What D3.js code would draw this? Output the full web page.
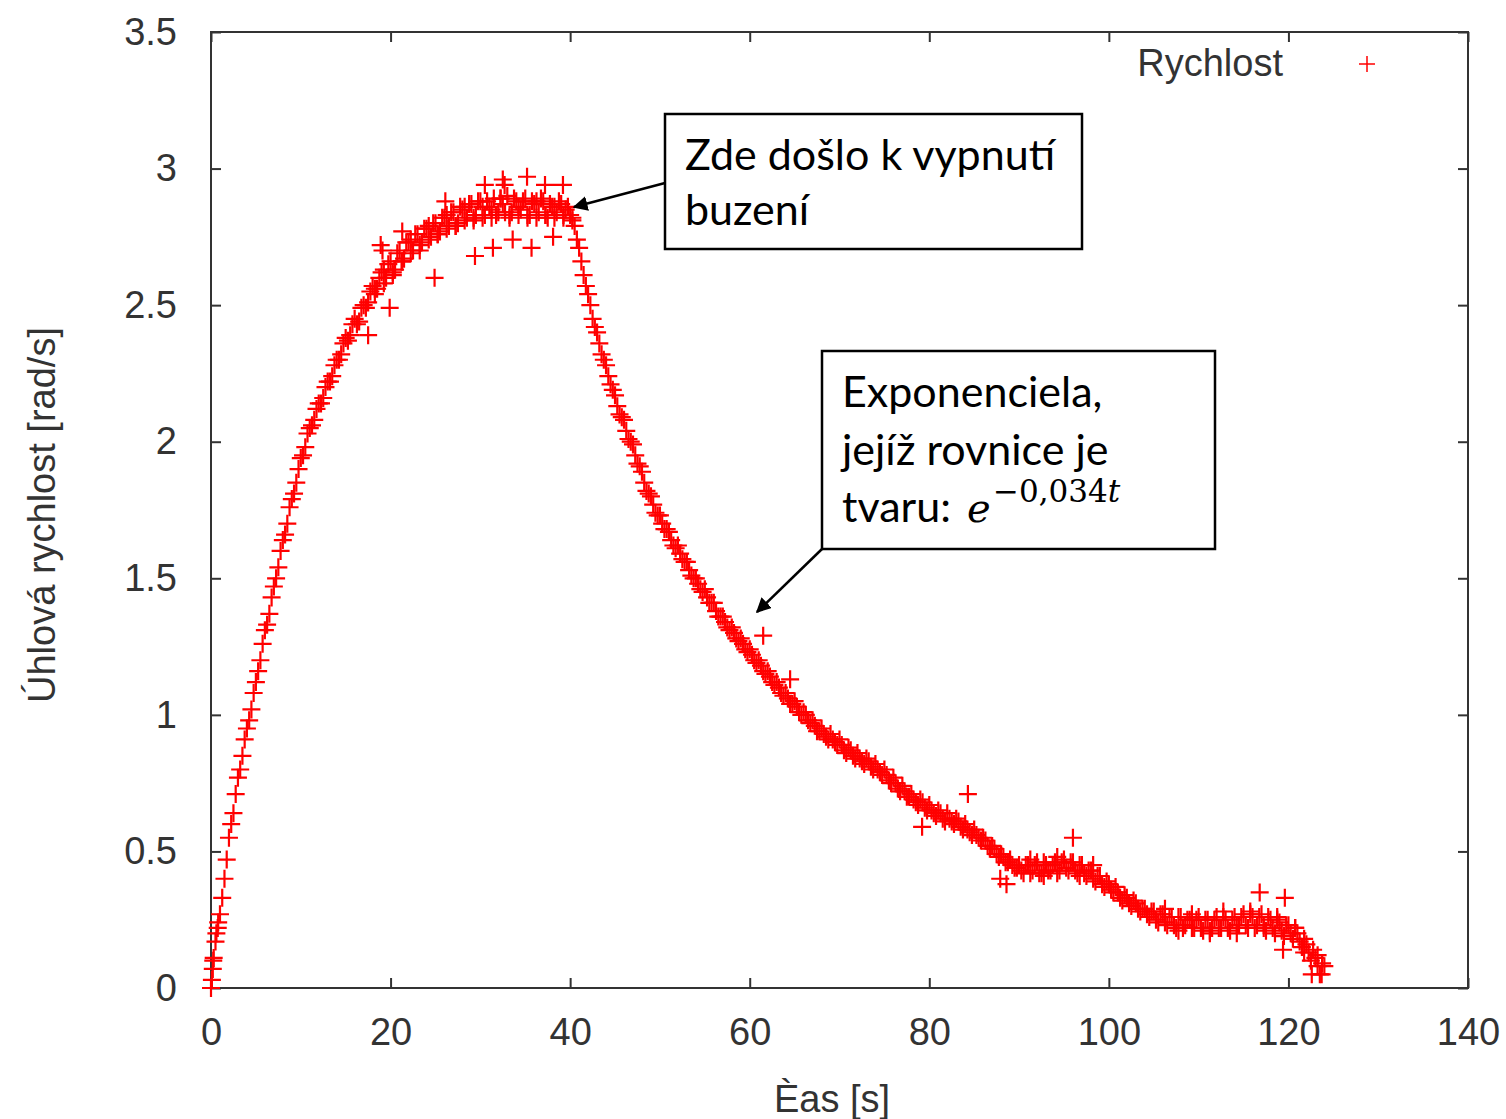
<!DOCTYPE html>
<html>
<head>
<meta charset="utf-8">
<script src="https://cdn.jsdelivr.net/npm/d3@7"></script>
<style>
  body { margin: 0; background: #fff; }
  #graf text { font-family: "Liberation Sans", Arial, sans-serif; }
</style>
</head>
<body>
<div id="graf"></div>
<script>
// Uhlova rychlost setrvacniku, vzorkovano po 0.5 s
const krok = 0.5;
const rychlost = [
  0.00, 0.17, 0.27, 0.40, 0.55, 0.64, 0.77, 0.85, 0.95, 1.02,
  1.12, 1.20, 1.31, 1.37, 1.47, 1.54, 1.64, 1.70, 1.79, 1.85,
  1.94, 1.98, 2.05, 2.08, 2.14, 2.16, 2.22, 2.24, 2.30, 2.32,
  2.38, 2.39, 2.45, 2.44, 2.50, 2.51, 2.57, 2.56, 2.62, 2.60,
  2.66, 2.63, 2.70, 2.67, 2.73, 2.70, 2.76, 2.73, 2.78, 2.75,
  2.80, 2.77, 2.82, 2.79, 2.84, 2.80, 2.85, 2.82, 2.87, 2.83,
  2.88, 2.83, 2.86, 2.89, 2.84, 2.87, 2.90, 2.84, 2.88, 2.85,
  2.89, 2.83, 2.87, 2.84, 2.88, 2.82, 2.86, 2.84, 2.87, 2.85,
  2.83, 2.79, 2.71, 2.61, 2.54, 2.45, 2.40, 2.32, 2.28, 2.21,
  2.17, 2.10, 2.08, 2.01, 1.99, 1.92, 1.89, 1.82, 1.80, 1.74,
  1.73, 1.68, 1.67, 1.62, 1.62, 1.57, 1.56, 1.51, 1.50, 1.46,
  1.46, 1.41, 1.41, 1.36, 1.36, 1.32, 1.32, 1.28, 1.28, 1.24,
  1.24, 1.20, 1.20, 1.16, 1.16, 1.12, 1.12, 1.08, 1.08, 1.04,
  1.05, 1.01, 1.01, 0.98, 0.98, 0.94, 0.95, 0.92, 0.93, 0.90,
  0.91, 0.87, 0.88, 0.85, 0.86, 0.83, 0.84, 0.81, 0.82, 0.79,
  0.80, 0.76, 0.77, 0.73, 0.74, 0.70, 0.71, 0.68, 0.69, 0.66,
  0.67, 0.64, 0.65, 0.62, 0.64, 0.61, 0.62, 0.59, 0.60, 0.57,
  0.58, 0.55, 0.55, 0.52, 0.52, 0.49, 0.49, 0.46, 0.47, 0.44,
  0.45, 0.42, 0.45, 0.43, 0.46, 0.42, 0.45, 0.43, 0.46, 0.43,
  0.47, 0.43, 0.46, 0.42, 0.45, 0.41, 0.43, 0.39, 0.41, 0.37,
  0.38, 0.35, 0.35, 0.32, 0.33, 0.30, 0.31, 0.28, 0.29, 0.26,
  0.28, 0.24, 0.27, 0.23, 0.26, 0.22, 0.26, 0.23, 0.25, 0.22,
  0.26, 0.21, 0.25, 0.22, 0.26, 0.22, 0.25, 0.21, 0.26, 0.23,
  0.27, 0.22, 0.26, 0.23, 0.27, 0.21, 0.25, 0.20, 0.24, 0.19,
  0.23, 0.18, 0.20, 0.15, 0.16, 0.10, 0.11, 0.05, 0.08
];
const cas = d3.range(rychlost.length).map(i => i * krok);

// druha sada vzorku, posunuta o 0.25 s
const rychlost2 = [
  0.10, 0.22, 0.33, 0.47, 0.60, 0.71, 0.80, 0.91, 0.98, 1.08,
  1.16, 1.26, 1.33, 1.43, 1.50, 1.60, 1.66, 1.76, 1.81, 1.90,
  1.95, 2.03, 2.06, 2.12, 2.14, 2.20, 2.22, 2.28, 2.30, 2.36,
  2.37, 2.43, 2.43, 2.49, 2.49, 2.55, 2.54, 2.60, 2.58, 2.65,
  2.62, 2.69, 2.66, 2.73, 2.69, 2.76, 2.72, 2.78, 2.74, 2.80,
  2.76, 2.82, 2.78, 2.84, 2.79, 2.86, 2.81, 2.87, 2.82, 2.88,
  2.82, 2.88, 2.85, 2.83, 2.89, 2.84, 2.82, 2.89, 2.83, 2.88,
  2.83, 2.88, 2.82, 2.89, 2.83, 2.87, 2.82, 2.88, 2.83, 2.86,
  2.82, 2.74, 2.66, 2.57, 2.50, 2.42, 2.36, 2.30, 2.24, 2.19,
  2.13, 2.09, 2.04, 2.00, 1.95, 1.91, 1.85, 1.81, 1.77, 1.73,
  1.70, 1.68, 1.64, 1.61, 1.59, 1.56, 1.53, 1.50, 1.48, 1.45,
  1.43, 1.41, 1.38, 1.36, 1.34, 1.31, 1.30, 1.27, 1.26, 1.23,
  1.22, 1.19, 1.18, 1.15, 1.14, 1.11, 1.10, 1.07, 1.06, 1.04,
  1.03, 1.00, 1.00, 0.97, 0.96, 0.94, 0.93, 0.91, 0.91, 0.89,
  0.89, 0.86, 0.87, 0.84, 0.84, 0.82, 0.83, 0.80, 0.80, 0.78,
  0.78, 0.75, 0.75, 0.72, 0.72, 0.70, 0.69, 0.67, 0.68, 0.65,
  0.65, 0.63, 0.64, 0.61, 0.62, 0.60, 0.61, 0.58, 0.58, 0.56,
  0.56, 0.54, 0.54, 0.51, 0.51, 0.48, 0.48, 0.46, 0.45, 0.44,
  0.43, 0.45, 0.42, 0.45, 0.42, 0.46, 0.43, 0.45, 0.42, 0.46,
  0.44, 0.46, 0.43, 0.45, 0.42, 0.43, 0.40, 0.41, 0.38, 0.39,
  0.36, 0.37, 0.33, 0.34, 0.31, 0.32, 0.29, 0.29, 0.27, 0.28,
  0.25, 0.27, 0.24, 0.26, 0.23, 0.26, 0.22, 0.25, 0.22, 0.25,
  0.22, 0.25, 0.21, 0.25, 0.22, 0.26, 0.22, 0.25, 0.23, 0.26,
  0.23, 0.27, 0.22, 0.26, 0.23, 0.26, 0.22, 0.25, 0.21, 0.23,
  0.20, 0.22, 0.17, 0.18, 0.13, 0.14, 0.08, 0.09
];
const cas2 = d3.range(rychlost2.length).map(i => 0.25 + i * krok);

// dalsi body mimo pravidelnou mrizku (odlehle hodnoty, zacatek mereni)
const casNavic = [0.1, 0.2, 0.3, 0.6, 0.8,
  17.5, 18.25, 18.9, 19.1, 19.25, 19.9, 20.25, 21.25, 21.3, 22.25, 23.25, 24.25, 24.9, 25.25,
  26.1, 26.25, 27.25, 28.25, 29.25, 29.4, 30.25, 30.5, 31.25, 31.4, 32.25, 32.5, 32.7, 33.25,
  33.6, 34.25, 35.2, 35.25, 35.7, 36.25, 37.2, 37.25, 38.1, 38.25, 39.2, 39.25, 40.25,
  61.5, 64.5, 79.2, 84.3, 87.9, 88.6, 91.25, 92.75, 94.25, 96.0, 96.75, 98.25,
  106.25, 107.75, 109.25, 111.25, 112.75, 114.25, 115.75, 116.8, 117.25, 118.75, 119.4, 119.6,
  120.75, 121.75, 122.6, 123.25, 123.7];
const rychlostNavic = [0.03, 0.07, 0.11, 0.20, 0.24,
  2.39, 2.56, 2.72, 2.70, 2.63, 2.49, 2.61, 2.66, 2.77, 2.74, 2.70, 2.79, 2.60, 2.76,
  2.88, 2.83, 2.79, 2.86, 2.81, 2.68, 2.86, 2.94, 2.82, 2.71, 2.89, 2.96, 2.94, 2.83,
  2.74, 2.86, 2.97, 2.82, 2.71, 2.88, 2.94, 2.83, 2.75, 2.86, 2.94, 2.82, 2.81,
  1.29, 1.13, 0.59, 0.71, 0.40, 0.38, 0.47, 0.41, 0.48, 0.55, 0.41, 0.45,
  0.29, 0.21, 0.27, 0.20, 0.28, 0.20, 0.28, 0.35, 0.22, 0.26, 0.14, 0.33,
  0.22, 0.13, 0.05, 0.12, 0.05];

const xTicks = [0, 20, 40, 60, 80, 100, 120, 140];
const yTicks = [0, 0.5, 1, 1.5, 2, 2.5, 3, 3.5];

const sirka = 1506, vyska = 1119;
const svg = d3.select("#graf").append("svg")
  .attr("width", sirka)
  .attr("height", vyska);

const x = d3.scaleLinear().domain([0, 140]).range([211, 1468]);
const y = d3.scaleLinear().domain([0, 3.5]).range([988, 32]);

const body = cas.map((t, i) => [t, rychlost[i]])
  .concat(cas2.map((t, i) => [t, rychlost2[i]]))
  .concat(casNavic.map((t, i) => [t, rychlostNavic[i]]));

// osy - carky smeruji dovnitr grafu
svg.append("g").attr("transform", "translate(0,988)")
  .call(d3.axisBottom(x).tickValues(xTicks).tickSizeInner(-10).tickSizeOuter(0).tickPadding(30));
svg.append("g").attr("transform", "translate(211,0)")
  .call(d3.axisLeft(y).tickValues(yTicks).tickFormat(d3.format("")).tickSizeInner(-10).tickSizeOuter(0).tickPadding(34));
svg.append("g").attr("transform", "translate(0,32)")
  .call(d3.axisTop(x).tickValues(xTicks).tickFormat("").tickSizeInner(-10).tickSizeOuter(0));
svg.append("g").attr("transform", "translate(1468,0)")
  .call(d3.axisRight(y).tickValues(yTicks).tickFormat("").tickSizeInner(-10).tickSizeOuter(0));

svg.selectAll(".domain").remove();
svg.selectAll(".tick line").attr("stroke", "#333").attr("stroke-width", 2);
svg.selectAll(".tick text").attr("fill", "#333").style("font-size", "38px")
  .style("font-family", "'Liberation Sans', Arial, sans-serif");

svg.append("rect")
  .attr("x", 211).attr("y", 32)
  .attr("width", 1468 - 211).attr("height", 988 - 32)
  .attr("fill", "none").attr("stroke", "#333").attr("stroke-width", 2);

// body jako krizky
const krizek = s => `M${-s},0H${s}M0,${-s}V${s}`;
svg.append("g").selectAll("path")
  .data(body)
  .enter()
  .append("path")
  .attr("transform", d => `translate(${x(d[0])},${y(d[1])})`)
  .attr("d", krizek(9))
  .attr("stroke", "#ff0000")
  .attr("stroke-width", 2.2)
  .attr("fill", "none");

// popisky os
svg.append("text")
  .attr("x", 832).attr("y", 1112)
  .attr("text-anchor", "middle")
  .attr("fill", "#333")
  .style("font-size", "38px")
  .text("Èas [s]");
svg.append("text")
  .attr("transform", "translate(55,515) rotate(-90)")
  .attr("text-anchor", "middle")
  .attr("fill", "#333")
  .style("font-size", "38px")
  .text("Úhlová rychlost [rad/s]");

// legenda
svg.append("text")
  .attr("x", 1283).attr("y", 76)
  .attr("text-anchor", "end")
  .attr("fill", "#333")
  .style("font-size", "38px")
  .text("Rychlost");
svg.append("path")
  .attr("transform", "translate(1367,64)")
  .attr("d", krizek(8))
  .attr("stroke", "#ff0000")
  .attr("stroke-width", 1.5);

// sipky a ramecky s komentari
svg.append("defs").append("marker")
  .attr("id", "hrot")
  .attr("viewBox", "0 0 10 10")
  .attr("refX", 9).attr("refY", 5)
  .attr("markerWidth", 6).attr("markerHeight", 6)
  .attr("markerUnits", "strokeWidth")
  .attr("orient", "auto")
  .append("path").attr("d", "M0,0L10,5L0,10z").attr("fill", "#000");

svg.append("line")
  .attr("x1", 665).attr("y1", 183).attr("x2", 574).attr("y2", 207)
  .attr("stroke", "#000").attr("stroke-width", 2.5).attr("marker-end", "url(#hrot)");
svg.append("line")
  .attr("x1", 822).attr("y1", 549).attr("x2", 757).attr("y2", 612)
  .attr("stroke", "#000").attr("stroke-width", 2.5).attr("marker-end", "url(#hrot)");

const fontPoznamky = "Lato, 'Open Sans', sans-serif";
svg.append("rect")
  .attr("x", 665).attr("y", 114).attr("width", 417).attr("height", 135)
  .attr("fill", "#fff").attr("stroke", "#000").attr("stroke-width", 2.5);
[["Zde došlo k vypnutí", 170], ["buzení", 225]].forEach(([t, yy]) => {
  svg.append("text").attr("x", 685).attr("y", yy)
    .style("font-family", fontPoznamky).style("font-size", "43px")
    .attr("fill", "#000").text(t);
});

svg.append("rect")
  .attr("x", 822).attr("y", 351).attr("width", 393).attr("height", 198)
  .attr("fill", "#fff").attr("stroke", "#000").attr("stroke-width", 2.5);
[["Exponenciela,", 407], ["jejíž rovnice je", 465], ["tvaru:", 522]].forEach(([t, yy]) => {
  svg.append("text").attr("x", 842).attr("y", yy)
    .style("font-family", fontPoznamky).style("font-size", "43px")
    .attr("fill", "#000").text(t);
});
svg.append("text").attr("x", 967).attr("y", 522)
  .style("font-family", "'DejaVu Serif', serif").style("font-style", "italic")
  .style("font-size", "40px").attr("fill", "#000").text("e");
const exponent = svg.append("text").attr("x", 993).attr("y", 502)
  .style("font-family", "'DejaVu Serif', serif")
  .style("font-size", "31px").attr("fill", "#000");
exponent.append("tspan").text("−0,034");
exponent.append("tspan").style("font-style", "italic").text("t");
</script>
</body>
</html>
